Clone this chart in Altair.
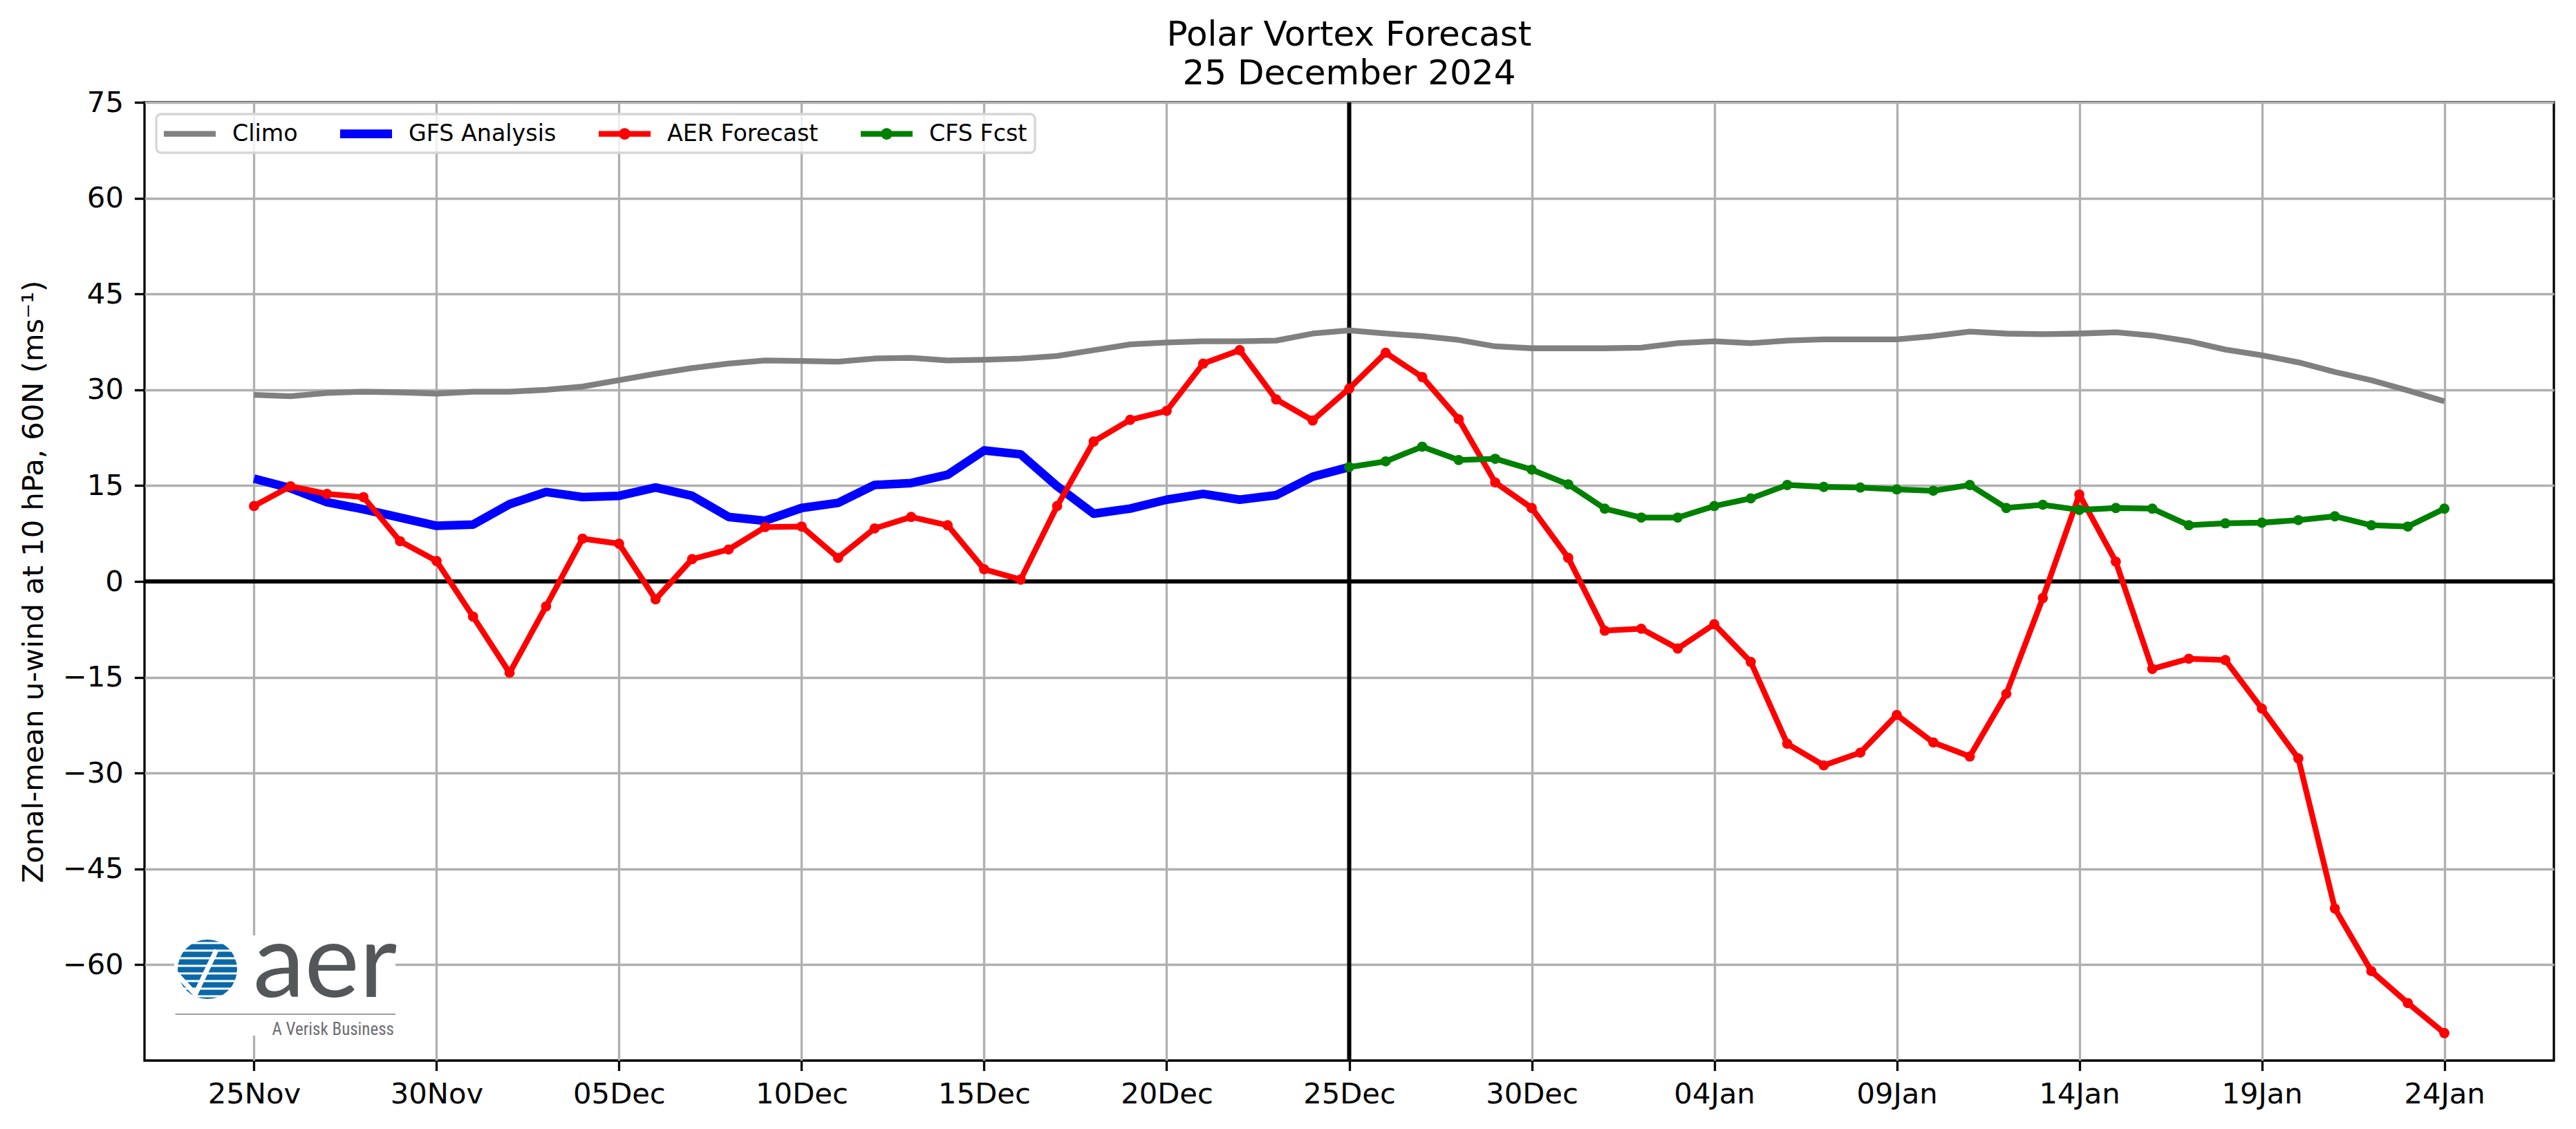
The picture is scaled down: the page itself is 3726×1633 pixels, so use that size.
import altair as alt
import pandas as pd

# ---- data -------------------------------------------------------------
dates = pd.date_range("2024-11-25", periods=61, freq="D")
forecast_date = pd.Timestamp("2024-12-25")

climo = [29.2, 29.0, 29.5, 29.7, 29.6, 29.4, 29.7, 29.7, 30.0, 30.5,
         31.5, 32.5, 33.4, 34.1, 34.6, 34.5, 34.4, 34.9, 35.0, 34.6,
         34.7, 34.9, 35.3, 36.2, 37.1, 37.4, 37.6, 37.6, 37.7, 38.8,
         39.3, 38.8, 38.4, 37.8, 36.8, 36.5, 36.5, 36.5, 36.6, 37.3,
         37.6, 37.3, 37.7, 37.9, 37.9, 37.9, 38.4, 39.1, 38.8, 38.7,
         38.8, 39.0, 38.5, 37.6, 36.3, 35.4, 34.3, 32.8, 31.5, 29.9, 28.2]

# analysis: 25 Nov .. 25 Dec
gfs = [16.1, 14.6, 12.4, 11.3, 10.0, 8.7, 8.9, 12.1, 14.0, 13.2,
       13.4, 14.7, 13.4, 10.1, 9.5, 11.5, 12.3, 15.1, 15.4, 16.7,
       20.5, 19.9, 14.9, 10.6, 11.4, 12.8, 13.7, 12.8, 13.5, 16.4, 17.9]

aer = [11.8, 14.9, 13.7, 13.2, 6.3, 3.2, -5.5, -14.3, -3.9, 6.7,
       5.9, -2.8, 3.5, 5.0, 8.5, 8.6, 3.7, 8.3, 10.1, 8.8,
       1.9, 0.3, 11.8, 21.9, 25.3, 26.7, 34.1, 36.2, 28.5, 25.2,
       30.2, 35.8, 32.0, 25.4, 15.5, 11.5, 3.7, -7.7, -7.4, -10.5,
       -6.7, -12.6, -25.4, -28.8, -26.8, -20.9, -25.2, -27.4, -17.6, -2.6,
       13.6, 3.1, -13.7, -12.1, -12.3, -19.9, -27.7, -51.2, -61.0, -66.0, -70.7]

# CFS forecast: 25 Dec .. 24 Jan
cfs = [17.9, 18.8, 21.1, 19.0, 19.2, 17.5, 15.2, 11.4, 10.0, 10.0,
       11.8, 13.0, 15.1, 14.8, 14.7, 14.4, 14.2, 15.1, 11.5, 12.0,
       11.2, 11.5, 11.4, 8.8, 9.1, 9.2, 9.6, 10.2, 8.8, 8.6, 11.4]

series_names = ["Climo", "GFS Analysis", "AER Forecast", "CFS Fcst"]
series_colors = ["#808080", "#0000ff", "#ff0000", "#008000"]
series_widths = [8.3, 12.5, 8.3, 8.3]

y_ticks = [-60, -45, -30, -15, 0, 15, 30, 45, 60, 75]

# legend glyphs: a bar for plain lines, bar + dot for lines with markers
# (unit = half the nominal symbol width of 35 px)
thin = "M-2.143,-0.237H2.143V0.237H-2.143Z"
thick = "M-2.143,-0.36H2.143V0.36H-2.143Z"
dot = "M-0.477,0A0.477,0.477 0 1,1 0.477,0A0.477,0.477 0 1,1 -0.477,0Z"
legend_shapes = [thin, thick, thin + dot, thin + dot]

frames = [
    pd.DataFrame({"date": dates, "value": climo, "series": "Climo"}),
    pd.DataFrame({"date": dates[:31], "value": gfs, "series": "GFS Analysis"}),
    pd.DataFrame({"date": dates, "value": aer, "series": "AER Forecast"}),
    pd.DataFrame({"date": dates[30:], "value": cfs, "series": "CFS Fcst"}),
]
df = pd.concat(frames, ignore_index=True)


def dt(ts):
    return alt.DateTime(year=ts.year, month=ts.month, date=ts.day)


x_ticks = [dt(d) for d in dates[::5]]
x_domain = [dt(pd.Timestamp("2024-11-22")), dt(pd.Timestamp("2025-01-27"))]

x_enc = alt.X(
    "date:T",
    scale=alt.Scale(domain=x_domain),
    axis=alt.Axis(values=x_ticks, format="%d%b", title=None, labelFlush=False,
                  labelOverlap=False, labelPadding=14),
)
y_enc = alt.Y(
    "value:Q",
    scale=alt.Scale(domain=[-75, 75], nice=False, zero=False),
    axis=alt.Axis(values=y_ticks, title="Zonal-mean u-wind at 10 hPa, 60N (ms⁻¹)",
                  labelFlush=False, labelOverlap=False, labelPadding=16,
                  titlePadding=20),
)

base = alt.Chart(df).encode(x=x_enc, y=y_enc)

layers = []

# reference lines: zero wind and the forecast initialisation date
zero_df = pd.DataFrame({"value": [0]})
layers.append(alt.Chart(zero_df).mark_rule(color="black", strokeWidth=6)
              .encode(y=alt.Y("value:Q")))
init_df = pd.DataFrame({"date": [forecast_date]})
layers.append(alt.Chart(init_df).mark_rule(color="black", strokeWidth=6)
              .encode(x=alt.X("date:T")))

for name, color, width in zip(series_names, series_colors, series_widths):
    sub = base.transform_filter(alt.datum.series == name)
    layers.append(sub.mark_line(color=color, strokeWidth=width, strokeJoin="round",
                                strokeCap="butt"))
    if name in ("AER Forecast", "CFS Fcst"):
        layers.append(sub.mark_circle(color=color, size=219, opacity=1))

# legend (drawn from scales only; no marks)
leg = alt.Legend(title=None, orient="top-left", direction="horizontal", columns=4,
                 labelLimit=1000)
layers.append(
    alt.Chart(df).transform_filter("false").mark_point(filled=True, opacity=1, size=1225)
    .encode(
        x=x_enc, y=y_enc,
        color=alt.Color("series:N", scale=alt.Scale(domain=series_names, range=series_colors),
                        legend=leg),
        shape=alt.Shape("series:N", scale=alt.Scale(domain=series_names, range=legend_shapes),
                        legend=leg),
    )
)

# company logo in the lower-left corner (pixel positioned)
one = pd.DataFrame({"k": [0]})
logo = []
logo.append(alt.Chart(one).mark_rect(color="white").encode(
    x=alt.value(43), x2=alt.value(363), y=alt.value(1205), y2=alt.value(1350)))
logo.append(alt.Chart(one).mark_circle(color="#0b68a8", size=7390, opacity=1).encode(
    x=alt.value(91), y=alt.value(1254)))
stripes = pd.DataFrame({"dy": [-38, -27, -16, -5, 6, 17, 28, 39]})
stripes["y"] = 1254 + stripes["dy"]
stripes["half"] = (48.5 ** 2 - stripes["dy"] ** 2) ** 0.5
stripes["x1"] = 91 - stripes["half"]
stripes["x2"] = 91 + stripes["half"]
logo.append(alt.Chart(stripes).mark_rule(color="white", strokeWidth=3).encode(
    x=alt.X("x1:Q", scale=None), x2="x2:Q", y=alt.Y("y:Q", scale=None)))
check = pd.DataFrame({"px": [44.6, 73.6, 104.0], "py": [1259, 1290, 1226], "o": [0, 1, 2]})
logo.append(alt.Chart(check).mark_line(color="white", strokeWidth=7, strokeJoin="miter").encode(
    x=alt.X("px:Q", scale=None), y=alt.Y("py:Q", scale=None), order="o:Q"))
logo.append(alt.Chart(one).mark_text(text="aer", font="Lato", fontSize=150, color="#53575a",
                                     align="left", baseline="alphabetic").encode(
    x=alt.value(157), y=alt.value(1294)))
logo.append(alt.Chart(one).mark_rule(color="#9d9fa2", strokeWidth=2).encode(
    x=alt.value(44.6), x2=alt.value(363), y=alt.value(1319)))
logo.append(alt.Chart(one).mark_text(text="A Verisk Business",
                                     font="Roboto Condensed, Liberation Sans Narrow, Roboto",
                                     fontSize=25, color="#6d6e71", align="right",
                                     baseline="alphabetic").encode(
    x=alt.value(361), y=alt.value(1349)))

chart = (
    alt.layer(*logo, *layers)
    .resolve_scale(x="shared", y="shared")
    .properties(
        width=3485,
        height=1386,
        padding={"left": 209, "top": 148, "right": 32, "bottom": 99},
        autosize=alt.AutoSizeParams(type="none"),
        title=alt.TitleParams(
            ["Polar Vortex Forecast", "25 December 2024"],
            font="DejaVu Sans", fontSize=50, fontWeight="normal", color="black",
            anchor="middle", frame="group", baseline="alphabetic", offset=-44,
            lineHeight=56,
        ),
    )
    .configure_view(stroke="black", strokeWidth=3.3)
    .configure_axis(
        labelFont="DejaVu Sans", labelFontSize=41.7, labelColor="black",
        titleFont="DejaVu Sans", titleFontSize=41.7, titleFontWeight="normal",
        titleColor="black", tickColor="black", tickWidth=3.3, tickSize=14.6,
        gridColor="#b0b0b0", gridWidth=3.3, domain=False,
    )
    .configure_legend(
        padding=11, offset=17, fillColor="rgba(255,255,255,0.8)", strokeColor="#d6d6d6",
        strokeWidth=3.3, cornerRadius=7, labelFont="DejaVu Sans", labelFontSize=33.3,
        labelColor="black", labelOffset=44, columnPadding=60, rowPadding=0,
        symbolSize=1225, symbolOffset=20, symbolStrokeWidth=0, symbolOpacity=1,
    )
)

chart.save("out.html", embed_options={"renderer": "svg", "actions": False})
